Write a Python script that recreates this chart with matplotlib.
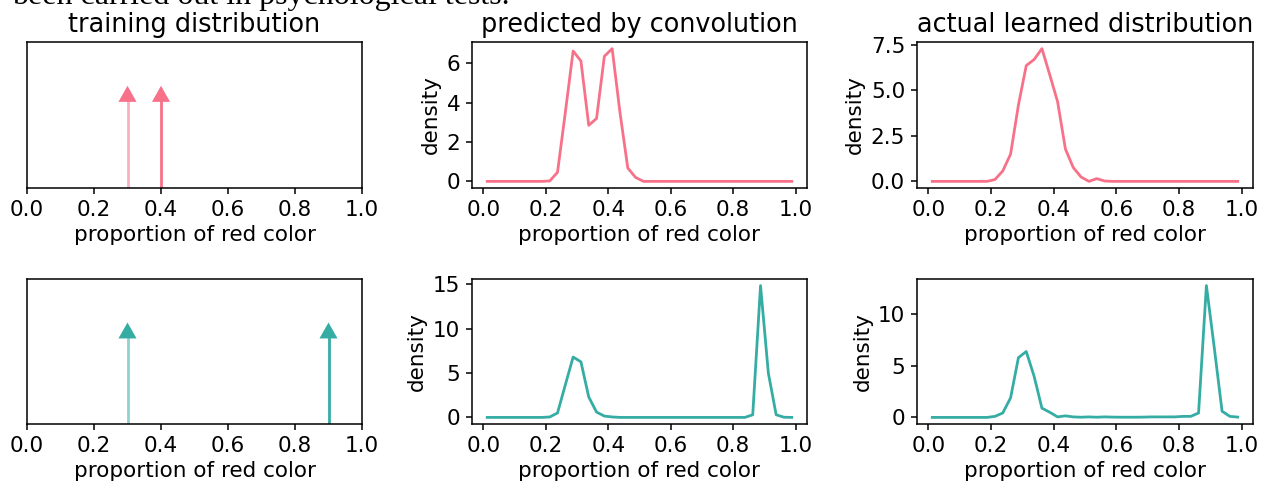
import numpy as np
import matplotlib
matplotlib.use("Agg")
import matplotlib.pyplot as plt

# ---- data ----
x_bins = np.round(0.0125 + 0.025 * np.arange(40), 4)

train_red = [0.3, 0.4]
train_teal = [0.3, 0.9]

pred_red = [0, 0, 0, 0, 0, 0, 0, 0, 0.02, 0.46,
            3.5, 6.63, 6.12, 2.85, 3.2, 6.36, 6.75, 3.5, 0.68, 0.2,
            0.0, 0, 0, 0, 0, 0, 0, 0, 0, 0,
            0, 0, 0, 0, 0, 0, 0, 0, 0, 0]
actual_red = [0, 0, 0, 0, 0, 0, 0, 0, 0.1, 0.57,
              1.5, 4.2, 6.37, 6.7, 7.3, 5.86, 4.38, 1.78, 0.76, 0.24,
              0.0, 0.15, 0.02, 0, 0, 0, 0, 0, 0, 0,
              0, 0, 0, 0, 0, 0, 0, 0, 0, 0]
pred_teal = [0, 0, 0, 0, 0, 0, 0, 0, 0.05, 0.5,
             3.66, 6.8, 6.26, 2.3, 0.6, 0.15, 0.05, 0, 0, 0,
             0, 0, 0, 0, 0, 0, 0, 0, 0, 0,
             0, 0, 0, 0, 0.3, 14.85, 5.0, 0.3, 0.02, 0]
actual_teal = [0, 0, 0, 0, 0, 0, 0, 0, 0.1, 0.43,
               1.9, 5.8, 6.4, 4.0, 0.9, 0.5, 0.05, 0.15, 0.05, 0.02,
               0.05, 0.02, 0.05, 0.03, 0.02, 0.02, 0.02, 0.03, 0.05, 0.05,
               0.05, 0.05, 0.1, 0.1, 0.43, 12.8, 6.8, 0.6, 0.1, 0.03]

x_ticks = [0.0, 0.2, 0.4, 0.6, 0.8, 1.0]
yticks_pred_red = [0, 2, 4, 6]
yticks_actual_red = [0.0, 2.5, 5.0, 7.5]
yticks_pred_teal = [0, 5, 10, 15]
yticks_actual_teal = [0, 5, 10]

titles = ["training distribution", "predicted by convolution", "actual learned distribution"]
xlabel = "proportion of red color"
ylabel = "density"
header_text = "been carried out in psychological tests."
pink = "#f77189"
teal = "#36ada4"

# ---- style ----
plt.rcParams.update({
    "font.family": "DejaVu Sans",
    "font.size": 15.5,
    "axes.titlesize": 18.4,
    "axes.linewidth": 1.1,
    "xtick.major.size": 4.5,
    "ytick.major.size": 4.5,
    "xtick.major.width": 1.1,
    "ytick.major.width": 1.1,
    "xtick.major.pad": 4,
    "ytick.major.pad": 4,
})

W, H = 1268, 488
fig = plt.figure(figsize=(W / 100, H / 100), dpi=100)

def px_axes(x0, y0, x1, y1):
    return fig.add_axes([x0 / W, 1 - y1 / H, (x1 - x0) / W, (y1 - y0) / H])

cols = [(27, 362), (472, 807), (917, 1253)]
rows = [(42, 188), (279, 424)]

row_data = [
    (train_red, pred_red, actual_red, pink, yticks_pred_red, yticks_actual_red, ["0", "2", "4", "6"], ["0.0", "2.5", "5.0", "7.5"]),
    (train_teal, pred_teal, actual_teal, teal, yticks_pred_teal, yticks_actual_teal, ["0", "5", "10", "15"], ["0", "5", "10"]),
]

tip = 0.70
head_len = 0.11
head_w = 0.054
shaft_alpha = [0.55, 1.0]

for r, (train, pred, actual, col, yt_p, yt_a, yl_p, yl_a) in enumerate(row_data):
    y0, y1 = rows[r]
    # training distribution panel
    ax = px_axes(cols[0][0], y0, cols[0][1], y1)
    for i, xv in enumerate(train):
        ax.vlines(xv, 0, tip - head_len + 0.01, colors=col, lw=2.0,
                  alpha=shaft_alpha[i])
        ax.arrow(xv, tip - head_len, 0, head_len, width=0.0,
                 head_width=head_w, head_length=head_len,
                 length_includes_head=True, color=col, lw=0)
    ax.set_xlim(0, 1)
    ax.set_ylim(0, 1)
    ax.set_yticks([])
    ax.set_xticks(x_ticks)
    ax.set_xlabel(xlabel)
    if r == 0:
        ax.set_title(titles[0], pad=7)

    for c, series, yt, yl in ((1, pred, yt_p, yl_p), (2, actual, yt_a, yl_a)):
        ax = px_axes(cols[c][0], y0, cols[c][1], y1)
        ax.plot(x_bins, series, color=col, lw=2.0)
        ax.set_xticks(x_ticks)
        ax.set_yticks(yt)
        ax.set_yticklabels(yl)
        ax.set_xlabel(xlabel)
        ax.set_ylabel(ylabel)
        if r == 0:
            ax.set_title(titles[c], pad=7)

fig.text(12 / W, 1 - 4 / H, header_text,
         family="Liberation Serif", fontsize=23, va="baseline", ha="left")

fig.savefig("out.png", dpi=100)
